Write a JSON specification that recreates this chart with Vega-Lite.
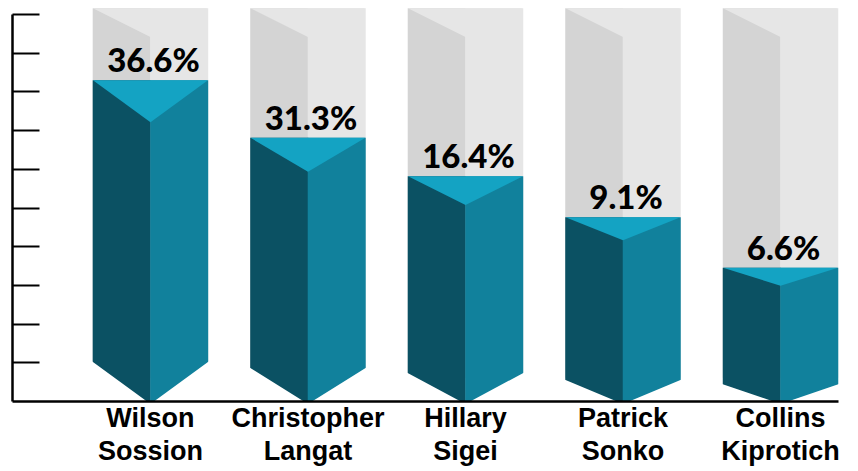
{
  "$schema": "https://vega.github.io/schema/vega-lite/v6.json",
  "width": 826,
  "height": 387,
  "autosize": {"type": "none"},
  "padding": {"left": 12, "top": 14, "right": 20, "bottom": 70},
  "background": "white",
  "config": {"view": {"stroke": null}},
  "data": {
    "values": [
      {"name": "Wilson Sossion", "label": "36.6%", "level": 8.29},
      {"name": "Christopher Langat", "label": "31.3%", "level": 6.8},
      {"name": "Hillary Sigei", "label": "16.4%", "level": 5.81},
      {"name": "Patrick Sonko", "label": "9.1%", "level": 4.75},
      {"name": "Collins Kiprotich", "label": "6.6%", "level": 3.44}
    ]
  },
  "resolve": {"scale": {"shape": "independent"}},
  "layer": [
    {
      "mark": {"type": "bar", "color": "#d4d4d4", "width": 58, "xOffset": -28.75},
      "encoding": {
        "x": {
          "field": "name", "type": "nominal", "sort": null,
          "scale": {"paddingInner": 0.27, "paddingOuter": 0.257, "align": 1},
          "axis": {
            "title": null, "domainColor": "#000", "domainWidth": 2.5, "ticks": false,
            "labelExpr": "split(datum.label, ' ')", "labelFont": "Liberation Sans",
            "labelFontWeight": "bold", "labelFontSize": 27, "labelColor": "#000",
            "labelAngle": 0, "labelPadding": 4, "labelLineHeight": 33,
            "labelOverlap": false, "labelBound": false, "zindex": 1
          }
        },
        "y": {
          "datum": 10.15, "type": "quantitative",
          "scale": {"domain": [0, 10], "nice": false},
          "axis": {
            "title": null, "labels": false, "values": [1, 2, 3, 4, 5, 6, 7, 8, 9, 10],
            "tickSize": -27, "tickWidth": 2, "tickColor": "#000",
            "domainColor": "#000", "domainWidth": 2.5, "grid": false, "zindex": 1
          }
        },
        "y2": {"datum": 0.6}
      }
    },
    {
      "mark": {"type": "bar", "color": "#e6e6e6", "width": 58, "xOffset": 28.75},
      "encoding": {
        "x": {"field": "name", "type": "nominal", "sort": null},
        "y": {"datum": 10.15, "type": "quantitative"},
        "y2": {"datum": 0.6}
      }
    },
    {
      "mark": {"type": "point", "shape": "M-1,0L1,0L0,0.5Z", "size": 13225, "filled": true, "fill": "#e6e6e6", "opacity": 1, "strokeWidth": 0},
      "encoding": {
        "x": {"field": "name", "type": "nominal", "sort": null},
        "y": {"datum": 10.15, "type": "quantitative"}
      }
    },
    {
      "mark": {"type": "bar", "color": "#0b5163", "width": 58, "xOffset": -28.75},
      "encoding": {
        "x": {"field": "name", "type": "nominal", "sort": null},
        "y": {"field": "level", "type": "quantitative"},
        "y2": {"datum": 0}
      }
    },
    {
      "mark": {"type": "bar", "color": "#11819c", "width": 58, "xOffset": 28.75},
      "encoding": {
        "x": {"field": "name", "type": "nominal", "sort": null},
        "y": {"field": "level", "type": "quantitative"},
        "y2": {"datum": 0}
      }
    },
    {
      "mark": {"type": "point", "size": 13225, "filled": true, "fill": "#14a3c3", "opacity": 1, "strokeWidth": 0},
      "encoding": {
        "x": {"field": "name", "type": "nominal", "sort": null},
        "y": {"field": "level", "type": "quantitative"},
        "shape": {
          "field": "name", "type": "nominal", "legend": null,
          "scale": {
            "domain": ["Wilson Sossion", "Christopher Langat", "Hillary Sigei", "Patrick Sonko", "Collins Kiprotich"],
            "range": ["M-1,0L1,0L0,0.73Z", "M-1,0L1,0L0,0.59Z", "M-1,0L1,0L0,0.5Z", "M-1,0L1,0L0,0.4Z", "M-1,0L1,0L0,0.31Z"]
          }
        }
      }
    },
    {
      "mark": {"type": "point", "size": 13225, "filled": true, "fill": "#ffffff", "opacity": 1, "strokeWidth": 0},
      "encoding": {
        "x": {"field": "name", "type": "nominal", "sort": null},
        "y": {"datum": 0, "type": "quantitative"},
        "shape": {
          "field": "name", "type": "nominal", "legend": null,
          "scale": {
            "domain": ["Wilson Sossion", "Christopher Langat", "Hillary Sigei", "Patrick Sonko", "Collins Kiprotich"],
            "range": [
              "M-1.03,-0.7L-1.03,0.05L0,0.05ZM1.03,-0.7L1.03,0.05L0,0.05Z",
              "M-1.03,-0.59L-1.03,0.05L0,0.05ZM1.03,-0.59L1.03,0.05L0,0.05Z",
              "M-1.03,-0.5L-1.03,0.05L0,0.05ZM1.03,-0.5L1.03,0.05L0,0.05Z",
              "M-1.03,-0.38L-1.03,0.05L0,0.05ZM1.03,-0.38L1.03,0.05L0,0.05Z",
              "M-1.03,-0.3L-1.03,0.05L0,0.05ZM1.03,-0.3L1.03,0.05L0,0.05Z"
            ]
          }
        }
      }
    },
    {
      "mark": {"type": "text", "font": "Lato", "fontWeight": 900, "fontSize": 33, "color": "#000", "baseline": "alphabetic", "dy": -8, "dx": 3},
      "encoding": {
        "x": {"field": "name", "type": "nominal", "sort": null},
        "y": {"field": "level", "type": "quantitative"},
        "text": {"field": "label"}
      }
    }
  ]
}
